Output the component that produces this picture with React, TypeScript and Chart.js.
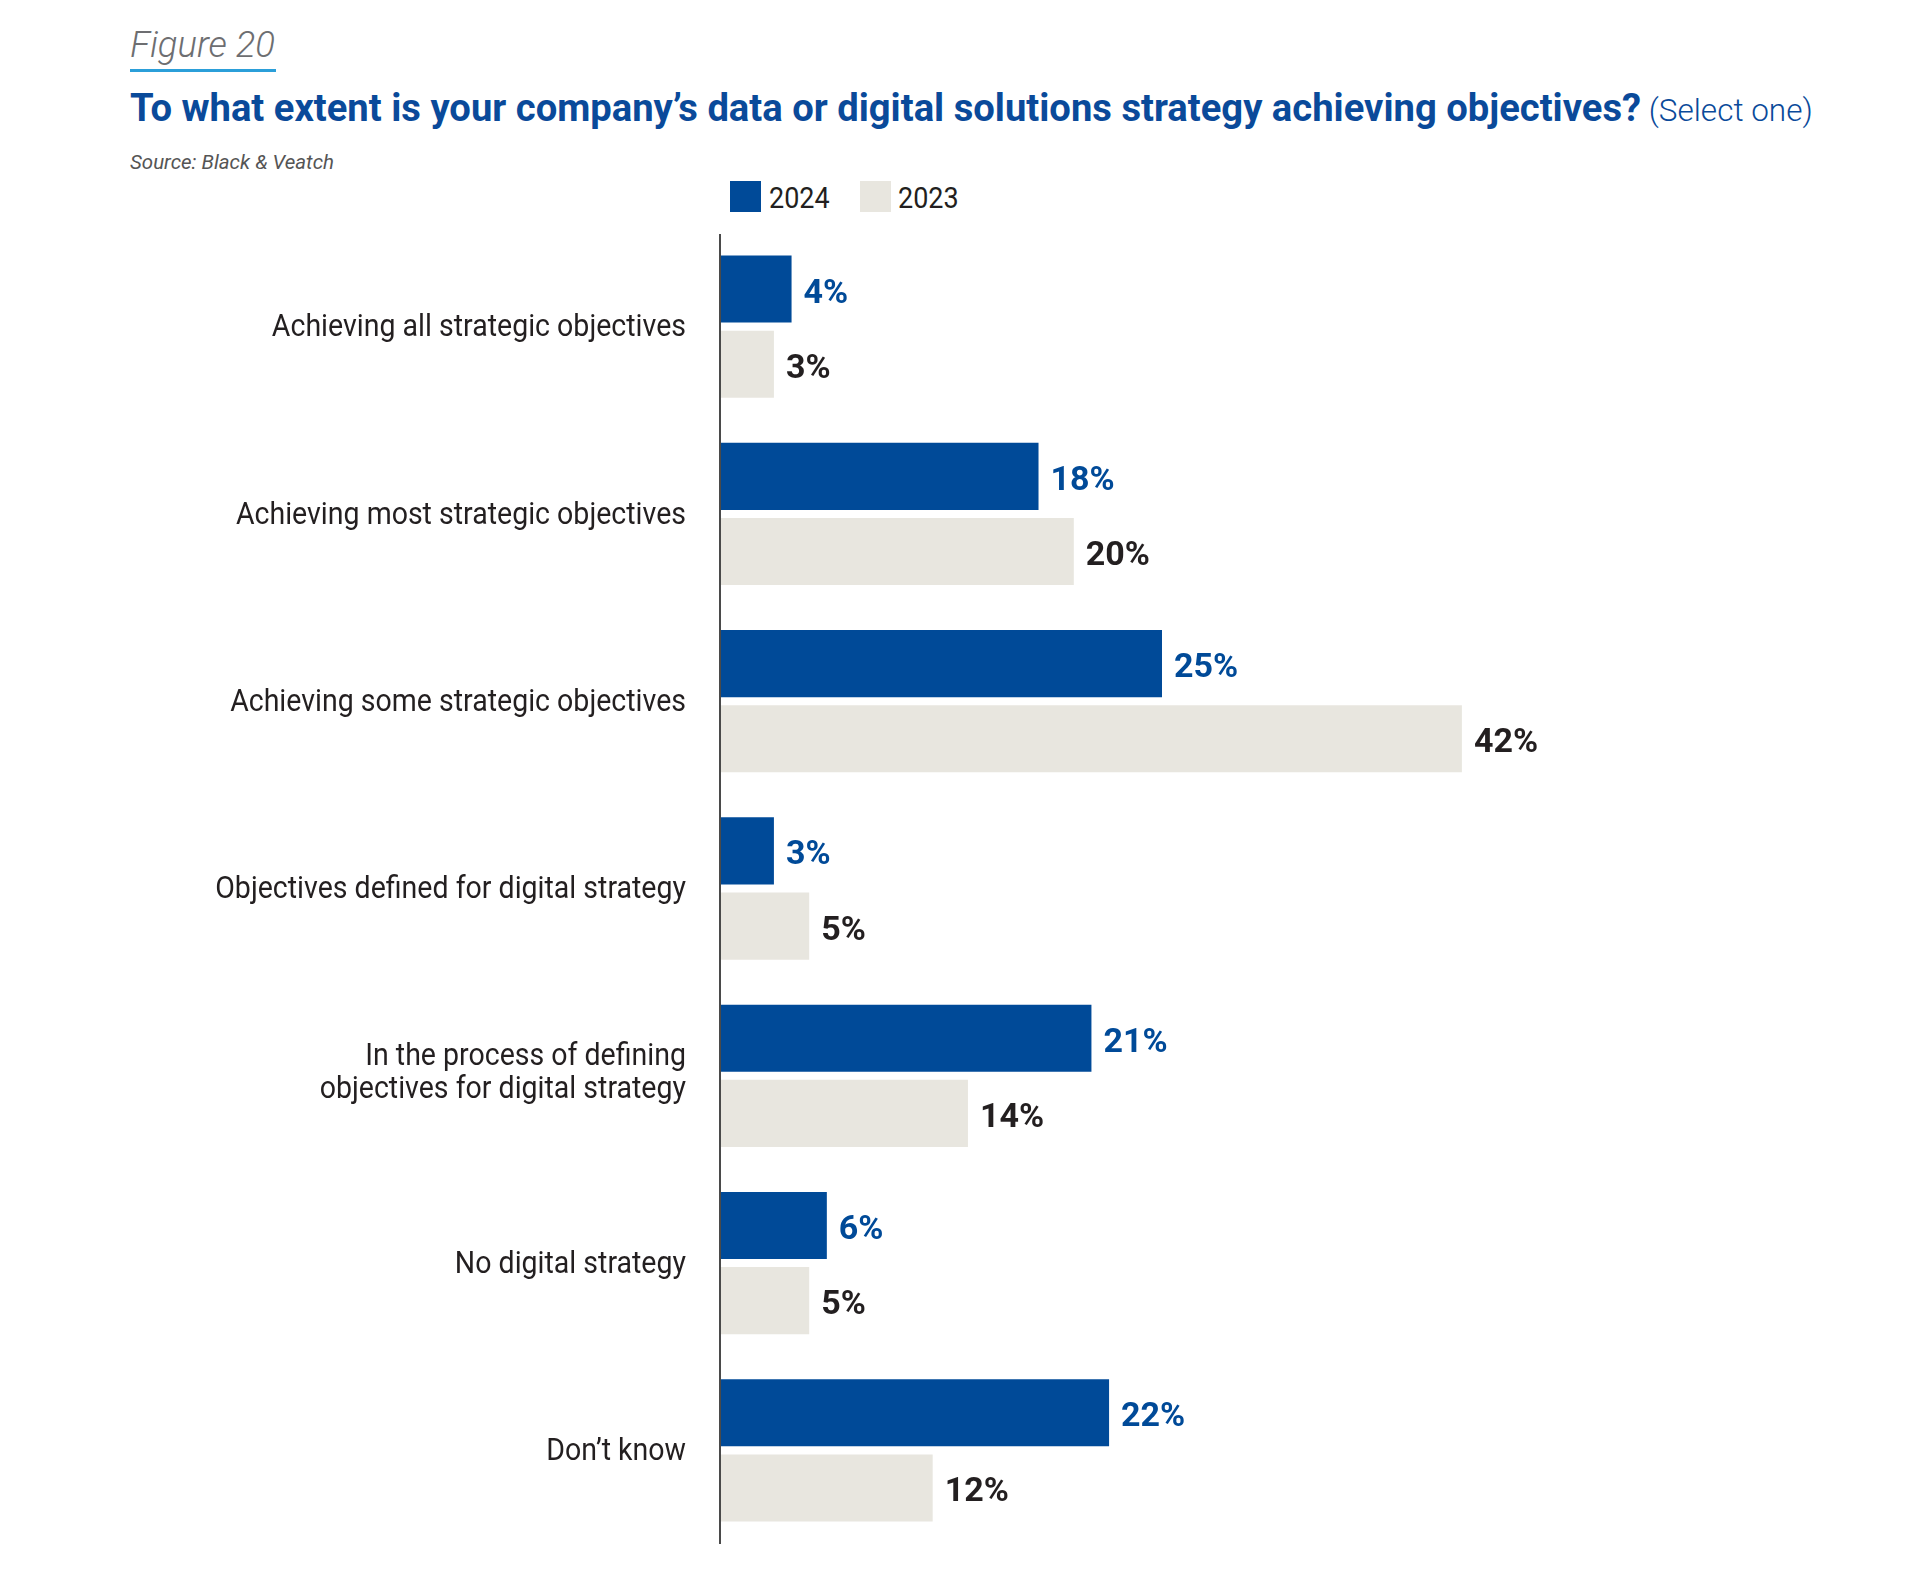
import React, { useEffect, useRef } from "react";
import { Chart, registerables } from "chart.js";

Chart.register(...registerables);

const categories: string[][] = [
  ["Achieving all strategic objectives"],
  ["Achieving most strategic objectives"],
  ["Achieving some strategic objectives"],
  ["Objectives defined for digital strategy"],
  ["In the process of defining", "objectives for digital strategy"],
  ["No digital strategy"],
  ["Don\u2019t know"],
];
const seriesNames = ["2024", "2023"];
const values2024 = [4, 18, 25, 3, 21, 6, 22];
const values2023 = [3, 20, 42, 5, 14, 5, 12];
const xMin = 0;
const xMax = 60;

const BLUE = "#004a98";
const GREY = "#e8e6df";
const DARK = "#231f20";
const LABEL_FONT = "Roboto";

const labelPlugin = {
  id: "customLabels",
  afterDraw(chart: any) {
    const { ctx, chartArea, scales } = chart;
    const yScale = scales.y;
    ctx.save();
    // axis line
    ctx.strokeStyle = "#4a4a4a";
    ctx.lineWidth = 2;
    ctx.beginPath();
    ctx.moveTo(chartArea.left - 1, chartArea.top + 1);
    ctx.lineTo(chartArea.left - 1, chartArea.bottom);
    ctx.stroke();

    // category labels
    ctx.fillStyle = DARK;
    ctx.font = `400 31px ${LABEL_FONT}`;
    ctx.textAlign = "right";
    ctx.textBaseline = "middle";
    const labelX = chartArea.left - 35;
    categories.forEach((lines, i) => {
      const cy = yScale.getPixelForValue(i);
      const lh = 33;
      const startY = cy + 2 - ((lines.length - 1) * lh) / 2 - (lines.length > 1 ? 4 : 0);
      lines.forEach((line, j) => {
        ctx.save();
        ctx.translate(labelX, startY + j * lh);
        ctx.scale(0.92, 1);
        ctx.fillText(line, 0, 0);
        ctx.restore();
      });
    });

    // value labels
    ctx.font = `700 34px ${LABEL_FONT}`;
    ctx.textAlign = "left";
    chart.data.datasets.forEach((ds: any, di: number) => {
      const meta = chart.getDatasetMeta(di);
      ctx.fillStyle = di === 0 ? BLUE : DARK;
      meta.data.forEach((el: any, i: number) => {
        ctx.fillText(`${ds.data[i]}%`, el.x + 12, el.y + 5);
      });
    });
    ctx.restore();
  },
};

export default function App() {
  const ref = useRef<HTMLCanvasElement | null>(null);

  useEffect(() => {
    if (!ref.current) return;
    const chart = new Chart(ref.current, {
      type: "bar",
      data: {
        labels: categories.map((c) => c.join(" ")),
        datasets: [
          {
            label: seriesNames[0],
            data: values2024,
            backgroundColor: BLUE,
            borderWidth: 0,
            categoryPercentage: 0.8026,
            barPercentage: 0.893,
          },
          {
            label: seriesNames[1],
            data: values2023,
            backgroundColor: GREY,
            borderWidth: 0,
            categoryPercentage: 0.8026,
            barPercentage: 0.893,
          },
        ],
      },
      options: {
        indexAxis: "y",
        responsive: false,
        animation: false,
        layout: { padding: { left: 721, right: 1920 - (721 + 17.64 * (xMax - xMin)), top: 233, bottom: 32 } },
        plugins: { legend: { display: false }, tooltip: { enabled: false } },
        scales: {
          x: { type: "linear", min: xMin, max: xMax, display: false },
          y: { type: "category", display: false },
        },
      },
      plugins: [labelPlugin],
    });
    return () => chart.destroy();
  }, []);

  const abs = (s: React.CSSProperties): React.CSSProperties => ({ position: "absolute", whiteSpace: "nowrap", ...s });

  return (
    <div style={{ position: "absolute", left: 0, top: 0, width: 1920, height: 1576, background: "#fff", fontFamily: "Roboto, sans-serif", overflow: "hidden" }}>
      <div style={abs({ left: 130, top: 27, fontSize: 36.5, lineHeight: "36px", fontStyle: "italic", fontWeight: 300, color: "#6d6e71" })}>Figure 20</div>
      <div style={abs({ left: 130, top: 69, width: 146, height: 3, background: "#2b9fd9" })} />
      <div style={abs({ left: 130, top: 89, lineHeight: "38px", color: "#0a4a9a" })}>
        <span style={{ fontSize: 38.2, fontWeight: 700 }}>To what extent is your company’s data or digital solutions strategy achieving objectives?</span>
        <span style={{ fontSize: 31.5, fontWeight: 300 }}> (Select one)</span>
      </div>
      <div style={abs({ left: 130, top: 152, fontSize: 20.5, lineHeight: "20px", fontStyle: "italic", color: "#555" })}>Source: Black &amp; Veatch</div>
      <div style={abs({ left: 730, top: 181, width: 31, height: 31, background: BLUE })} />
      <div style={abs({ left: 769, top: 184, fontSize: 29, lineHeight: "29px", color: DARK, transform: "scaleX(0.93)", transformOrigin: "left" })}>{seriesNames[0]}</div>
      <div style={abs({ left: 860, top: 181, width: 31, height: 31, background: GREY })} />
      <div style={abs({ left: 898, top: 184, fontSize: 29, lineHeight: "29px", color: DARK, transform: "scaleX(0.93)", transformOrigin: "left" })}>{seriesNames[1]}</div>
      <canvas ref={ref} width={1920} height={1576} style={{ position: "absolute", left: 0, top: 0 }} />
    </div>
  );
}
